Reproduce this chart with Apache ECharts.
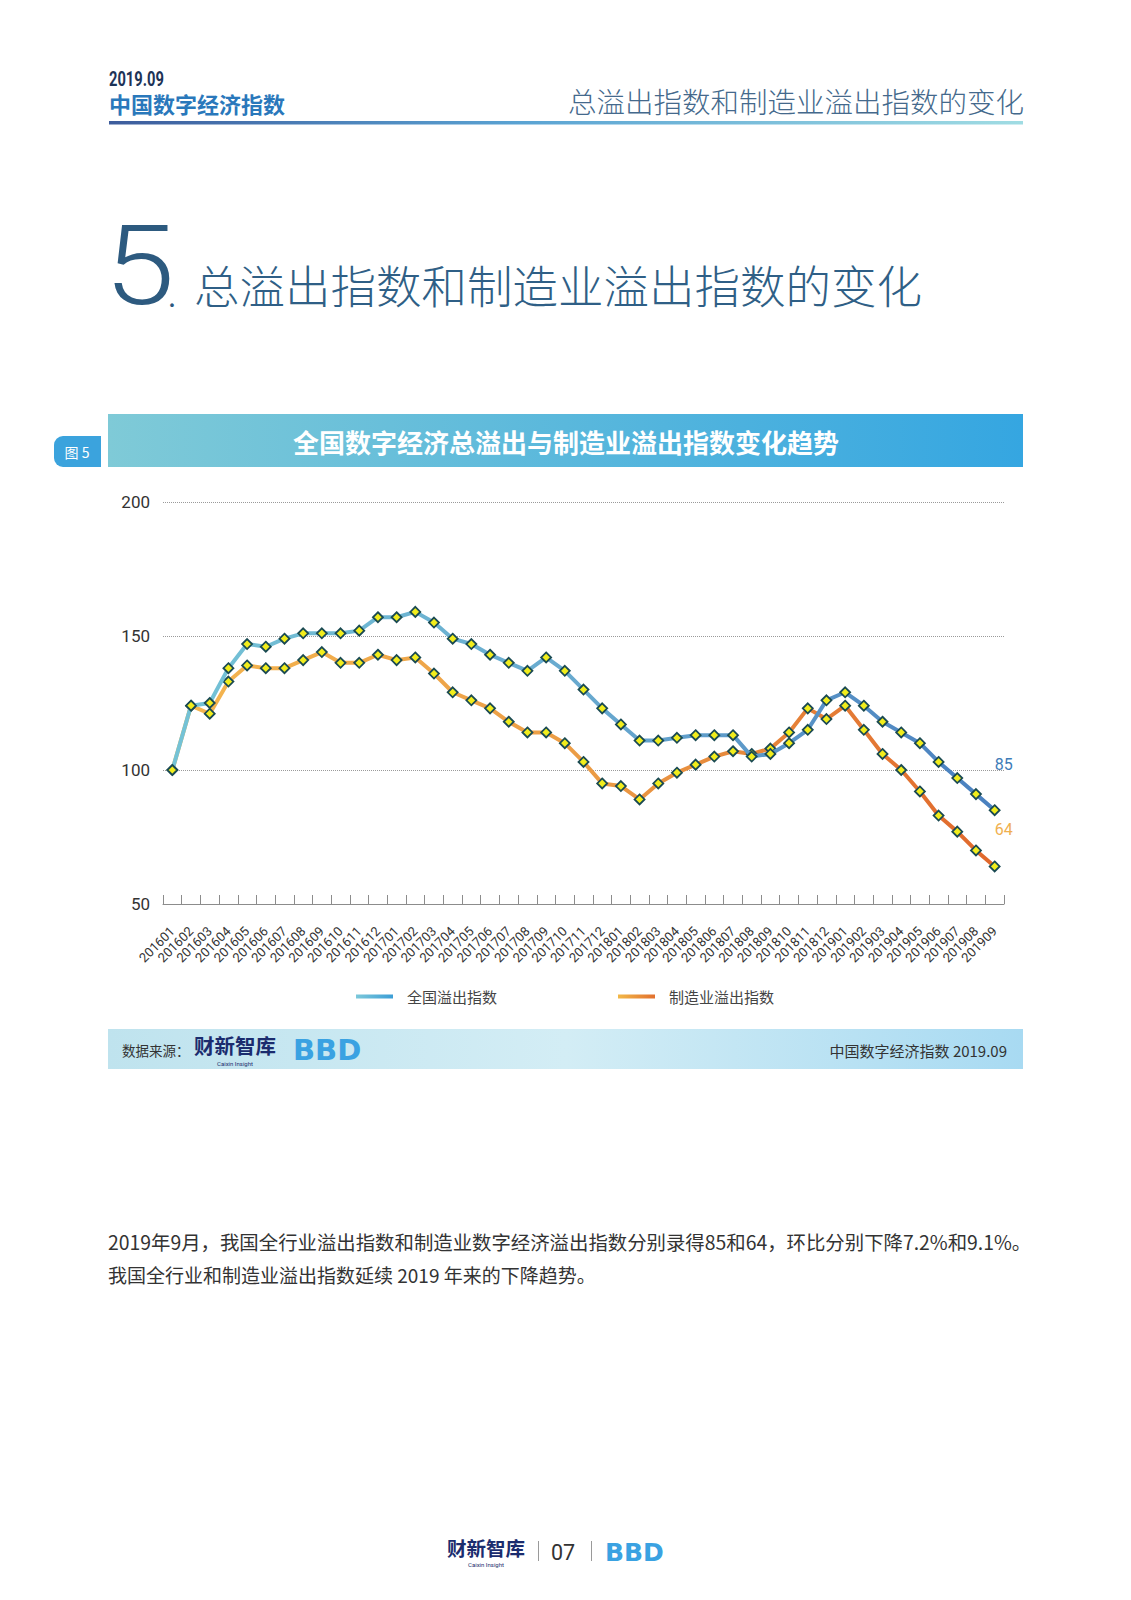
<!DOCTYPE html>
<html>
<head>
<meta charset="utf-8">
<script src="https://cdn.jsdelivr.net/npm/echarts@6/dist/echarts.min.js"></script>
<style>
html,body{margin:0;padding:0;background:#fff;}
#main{width:1131px;height:1600px;}
</style>
</head>
<body>
<div id="main"></div>
<script>
// ---------- data ----------
const categories = [
  '201601','201602','201603','201604','201605','201606','201607','201608','201609','201610','201611','201612',
  '201701','201702','201703','201704','201705','201706','201707','201708','201709','201710','201711','201712',
  '201801','201802','201803','201804','201805','201806','201807','201808','201809','201810','201811','201812',
  '201901','201902','201903','201904','201905','201906','201907','201908','201909'
];
const totalSpill = [
  100,124,125,138,147,146,149,151,151,151,152,157,
  157,159,155,149,147,143,140,137,142,137,130,123,
  117,111,111,112,113,113,113,105,106,110,115,126,
  129,124,118,114,110,103,97,91,85
];
const mfgSpill = [
  100,124,121,133,139,138,138,141,144,140,140,143,
  141,142,136,129,126,123,118,114,114,110,103,95,
  94,89,95,99,102,105,107,106,108,114,123,119,
  124,115,106,100,92,83,77,70,64
];
const yMin = 50, yMax = 200, yStep = 50;
const seriesNames = ['全国溢出指数', '制造业溢出指数'];

// ---------- styling ----------
const CJK = '"Noto Sans CJK SC", "Noto Sans", sans-serif';
const G = echarts.graphic.LinearGradient;
const blueLine = new G(0, 0, 1, 0, [
  {offset: 0, color: '#74c3d6'}, {offset: 0.5, color: '#68a9cf'}, {offset: 1, color: '#4a80bf'}
]);
const orangeLine = new G(0, 0, 1, 0, [
  {offset: 0, color: '#f4b650'}, {offset: 0.5, color: '#eb9c45'}, {offset: 1, color: '#e0682c'}
]);
const blueLegend = new G(0, 0, 1, 0, [{offset: 0, color: '#7cc8da'}, {offset: 1, color: '#3c9ed6'}]);
const orangeLegend = new G(0, 0, 1, 0, [{offset: 0, color: '#f2b848'}, {offset: 1, color: '#e2702e'}]);

function withEndLabel(arr, color, off) {
  const last = arr.length - 1;
  return arr.map((v, i) => i === last ? {
    value: v,
    label: {show: true, position: 'top', offset: off, color: color, fontSize: 16,
      fontFamily: 'Roboto', formatter: '{c}'}
  } : v);
}

const markerStyle = {color: '#f1ed1c', borderColor: '#1a4a52', borderWidth: 1.8};

const graphics = [
  // header
  {type: 'text', x: 109, y: 78, scaleX: 0.7,
    style: {text: '2019.09', fill: '#1d3357', font: 'bold 21px Roboto', align: 'left', verticalAlign: 'middle'}},
  {type: 'text', x: 109, y: 103,
    style: {text: '中国数字经济指数', fill: '#2a78bb', font: 'bold 22px ' + CJK, align: 'left', verticalAlign: 'middle'}},
  {type: 'text', x: 1024, y: 100,
    style: {text: '总溢出指数和制造业溢出指数的变化', fill: '#44698c', font: '300 28.5px ' + CJK, align: 'right', verticalAlign: 'middle'}},
  {type: 'rect', shape: {x: 109, y: 121, width: 914, height: 3.5},
    style: {fill: new G(0, 0, 1, 0, [{offset: 0, color: '#3d5c9c'}, {offset: 0.45, color: '#5aa3d3'}, {offset: 1, color: '#a0dce3'}])}},
  // section title
  {type: 'text', x: 104, y: 266, scaleX: 1.15,
    style: {text: '5', fill: '#2d5a7f', font: '300 111px Roboto', align: 'left', verticalAlign: 'middle'}},
  {type: 'text', x: 167, y: 292,
    style: {text: '.', fill: '#2d5a7f', font: '300 44px Roboto', align: 'left', verticalAlign: 'middle'}},
  {type: 'text', x: 194, y: 284,
    style: {text: '总溢出指数和制造业溢出指数的变化', fill: '#2f5f86', font: '300 45.5px ' + CJK, align: 'left', verticalAlign: 'middle'}},
  // chart banner
  {type: 'rect', shape: {x: 54, y: 436, width: 47, height: 31, r: [9, 0, 0, 9]}, style: {fill: '#3ba3dd'}},
  {type: 'text', x: 77, y: 452,
    style: {text: '图 5', fill: '#ffffff', font: '14px ' + CJK, align: 'center', verticalAlign: 'middle'}},
  {type: 'rect', shape: {x: 108, y: 414, width: 915, height: 53},
    style: {fill: new G(0, 0, 1, 0, [{offset: 0, color: '#7fcad7'}, {offset: 1, color: '#35a6e1'}])}},
  {type: 'text', x: 566, y: 441,
    style: {text: '全国数字经济总溢出与制造业溢出指数变化趋势', fill: '#ffffff', font: 'bold 26px ' + CJK, align: 'center', verticalAlign: 'middle'}},
  // source bar
  {type: 'rect', shape: {x: 108, y: 1029, width: 915, height: 40},
    style: {fill: new G(0, 0, 1, 0, [{offset: 0, color: '#bfe3ee'}, {offset: 0.5, color: '#d3edf5'}, {offset: 1, color: '#a8daf2'}])}},
  {type: 'text', x: 122, y: 1050,
    style: {text: '数据来源：', fill: '#333333', font: '13.5px ' + CJK, align: 'left', verticalAlign: 'middle'}},
  {type: 'text', x: 194, y: 1045,
    style: {text: '财新智库', fill: '#1b2c6e', font: 'bold 20.5px ' + CJK, align: 'left', verticalAlign: 'middle'}},
  {type: 'text', x: 235, y: 1063,
    style: {text: 'Caixin Insight', fill: '#1b2c6e', font: '6px Roboto', align: 'center', verticalAlign: 'middle'}},
  {type: 'text', x: 293, y: 1050,
    style: {text: 'BBD', fill: '#3aa2e2', font: 'bold 29px "DejaVu Sans"', align: 'left', verticalAlign: 'middle'}},
  {type: 'text', x: 1007, y: 1050,
    style: {text: '中国数字经济指数 2019.09', fill: '#333333', font: '15px ' + CJK, align: 'right', verticalAlign: 'middle'}},
  // body text
  {type: 'text', x: 108, y: 1241,
    style: {text: '2019年9月，我国全行业溢出指数和制造业数字经济溢出指数分别录得85和64，环比分别下降7.2%和9.1%。',
      fill: '#333333', font: '19.4px ' + CJK, align: 'left', verticalAlign: 'middle'}},
  {type: 'text', x: 108, y: 1274,
    style: {text: '我国全行业和制造业溢出指数延续 2019 年来的下降趋势。',
      fill: '#333333', font: '19px ' + CJK, align: 'left', verticalAlign: 'middle'}},
  // page footer
  {type: 'text', x: 447, y: 1547,
    style: {text: '财新智库', fill: '#1b2c6e', font: 'bold 19.5px ' + CJK, align: 'left', verticalAlign: 'middle'}},
  {type: 'text', x: 486, y: 1564,
    style: {text: 'Caixin Insight', fill: '#1b2c6e', font: '6px Roboto', align: 'center', verticalAlign: 'middle'}},
  {type: 'rect', shape: {x: 538, y: 1541, width: 1, height: 20}, style: {fill: '#9a9a9a'}},
  {type: 'text', x: 551, y: 1552,
    style: {text: '07', fill: '#333333', font: '21.5px Roboto', align: 'left', verticalAlign: 'middle'}},
  {type: 'rect', shape: {x: 591, y: 1541, width: 1, height: 20}, style: {fill: '#9a9a9a'}},
  {type: 'text', x: 605, y: 1552,
    style: {text: 'BBD', fill: '#3aa2e2', font: 'bold 25px "DejaVu Sans"', align: 'left', verticalAlign: 'middle'}}
];

const chart = echarts.init(document.getElementById('main'), null, {renderer: 'svg', width: 1131, height: 1600});
chart.setOption({
  backgroundColor: '#ffffff',
  animation: false,
  textStyle: {fontFamily: CJK},
  graphic: graphics,
  grid: {left: 163, top: 502, width: 841, height: 402, containLabel: false},
  legend: {
    left: 351, top: 984, itemWidth: 37, itemHeight: 4, itemGap: 121, icon: 'rect',
    itemStyle: {borderWidth: 0},
    textStyle: {fontSize: 15, color: '#444444', fontFamily: CJK, padding: [0, 0, 0, 9]},
    data: [
      {name: seriesNames[0], itemStyle: {color: blueLegend, borderWidth: 0}},
      {name: seriesNames[1], itemStyle: {color: orangeLegend, borderWidth: 0}}
    ]
  },
  xAxis: {
    type: 'category', data: categories, boundaryGap: true,
    axisLine: {show: true, lineStyle: {color: '#8c8c8c', width: 1}},
    axisTick: {show: true, inside: true, length: 9, interval: 0, alignWithLabel: false,
      lineStyle: {color: '#8c8c8c', width: 1}},
    axisLabel: {rotate: 45, interval: 0, fontSize: 13, color: '#333333', fontFamily: 'Roboto',
      margin: 25, padding: [0, 0, 0, 0]},
    splitLine: {show: false}
  },
  yAxis: {
    type: 'value', min: yMin, max: yMax, interval: yStep,
    axisLine: {show: false}, axisTick: {show: false},
    axisLabel: {fontSize: 17, color: '#333333', fontFamily: 'Roboto', margin: 13},
    splitLine: {lineStyle: {type: 'dotted', color: '#9a9a9a', width: 1}}
  },
  series: [
    {
      name: seriesNames[0], type: 'line', z: 4, data: withEndLabel(totalSpill, '#3e7cb8', [9, -27]),
      symbol: 'diamond', symbolSize: 10, showAllSymbol: true,
      lineStyle: {width: 4, color: blueLine}, itemStyle: markerStyle
    },
    {
      name: seriesNames[1], type: 'line', z: 3, data: withEndLabel(mfgSpill, '#f0b050', [9, -18]),
      symbol: 'diamond', symbolSize: 10, showAllSymbol: true,
      lineStyle: {width: 4, color: orangeLine}, itemStyle: markerStyle
    }
  ]
});
</script>
</body>
</html>
